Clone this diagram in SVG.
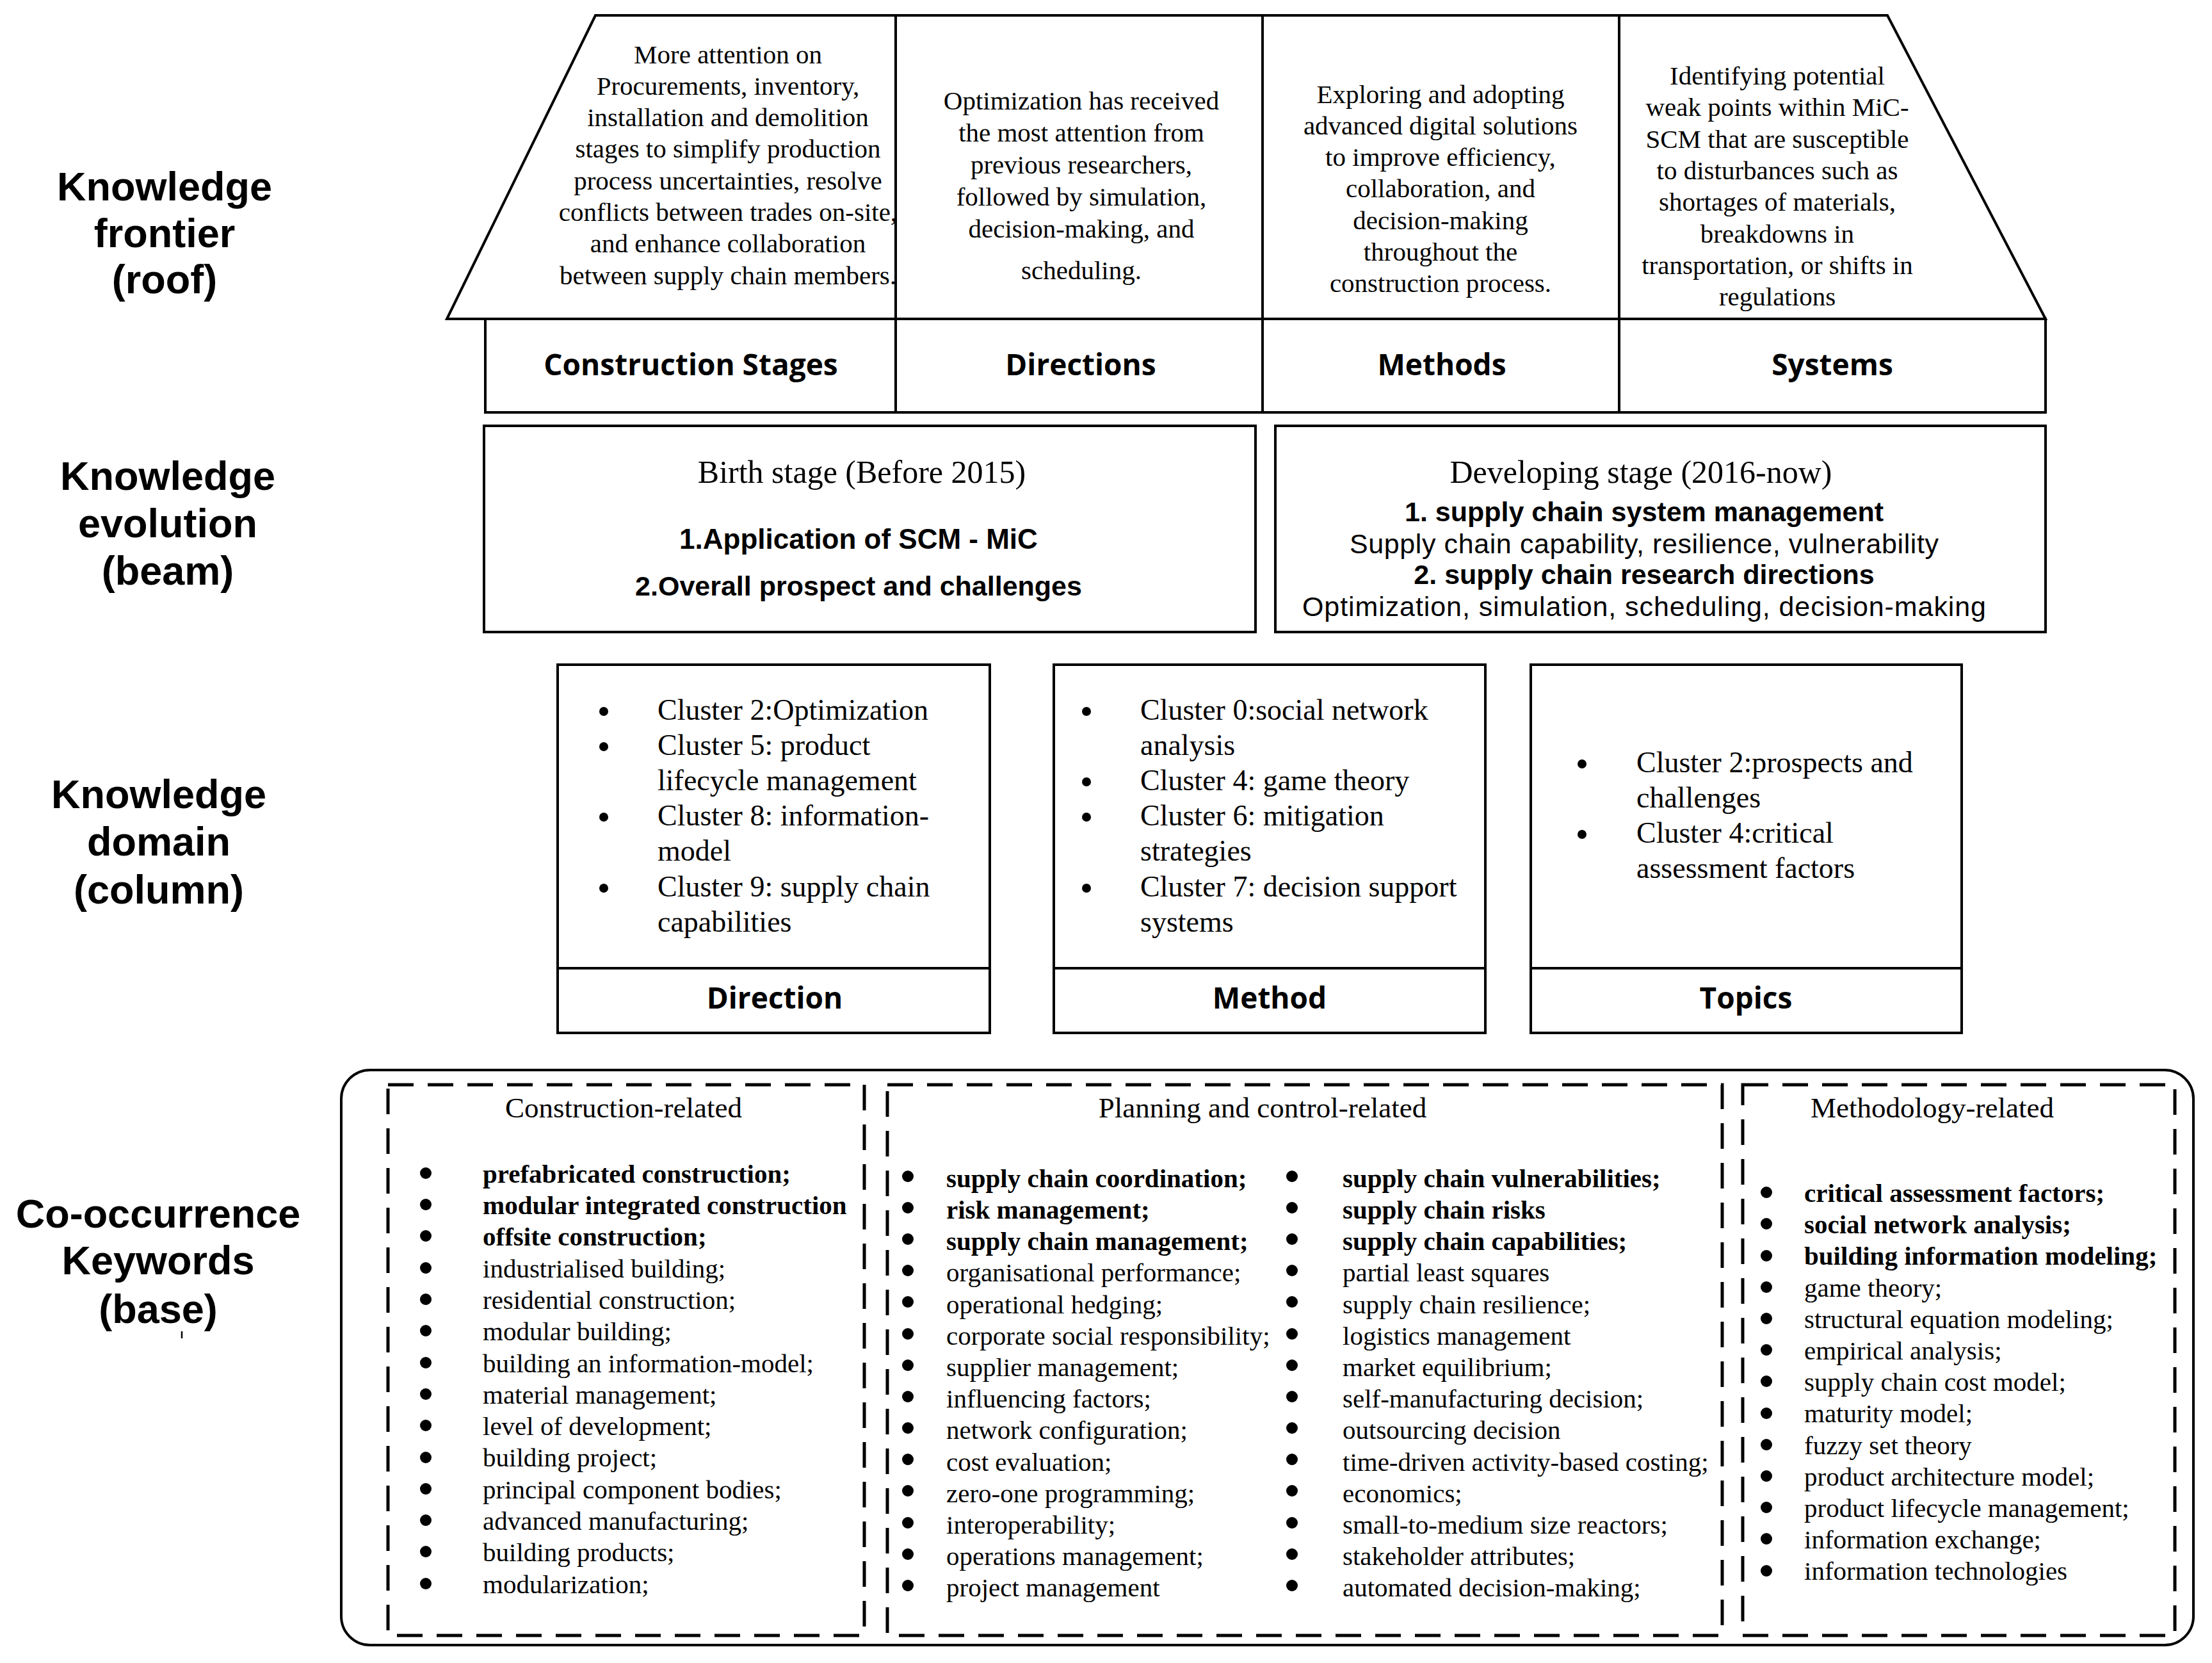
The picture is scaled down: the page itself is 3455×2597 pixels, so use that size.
<svg xmlns="http://www.w3.org/2000/svg" width="3455" height="2597" viewBox="0 0 3455 2597">
<style>
.ln{fill:none;stroke:#000;stroke-width:4}
.dash{fill:none;stroke:#000;stroke-width:5;stroke-dasharray:40 22}
.side{font-family:"Liberation Sans",Arial,sans-serif;font-weight:700;font-size:63px;text-anchor:middle}
.lab{font-family:"Open Sans","Noto Sans",sans-serif;font-weight:700;font-size:46px;text-anchor:middle}
.roof{font-family:"Liberation Serif","Times New Roman",serif;font-size:41px;text-anchor:middle}
.stage{font-family:"Liberation Serif","Times New Roman",serif;font-size:50px;text-anchor:middle}
.bs{font-family:"Liberation Sans",Arial,sans-serif;font-weight:700;font-size:43px;text-anchor:middle}
.dev{font-family:"Liberation Sans",Arial,sans-serif;font-size:43px;text-anchor:middle}
.cl{font-family:"Liberation Serif","Times New Roman",serif;font-size:46px}
.hd{font-family:"Liberation Serif","Times New Roman",serif;font-size:45px;text-anchor:middle}
.kw{font-family:"Liberation Serif","Times New Roman",serif;font-size:41px}
.b{font-weight:700}
</style>
<rect width="3455" height="2597" fill="#fff"/>

<g id="side-labels">
<text class="side"><tspan x="257" y="313">Knowledge</tspan><tspan x="257" y="386">frontier</tspan><tspan x="257" y="458">(roof)</tspan></text>
<text class="side"><tspan x="262" y="765">Knowledge</tspan><tspan x="262" y="839">evolution</tspan><tspan x="262" y="913">(beam)</tspan></text>
<text class="side"><tspan x="248" y="1262">Knowledge</tspan><tspan x="248" y="1336">domain</tspan><tspan x="248" y="1411">(column)</tspan></text>
<text class="side"><tspan x="247" y="1917">Co-occurrence</tspan><tspan x="247" y="1990">Keywords</tspan><tspan x="247" y="2066">(base)</tspan></text>
<line x1="284" y1="2079" x2="284" y2="2090" stroke="#000" stroke-width="2.5"/>
</g>

<g id="roof">
<polygon class="ln" points="930,24 2948,24 3195,498 698,498"/>
<rect class="ln" x="758" y="498" width="2437" height="146"/>
<line class="ln" x1="1399" y1="24" x2="1399" y2="644"/>
<line class="ln" x1="1972" y1="24" x2="1972" y2="644"/>
<line class="ln" x1="2529" y1="24" x2="2529" y2="644"/>
</g>

<g id="roof-construction-stages">
<text class="roof"><tspan x="1137" y="98.5">More attention on</tspan><tspan x="1137" y="147.8">Procurements, inventory,</tspan><tspan x="1137" y="197.1">installation and demolition</tspan><tspan x="1137" y="246.4">stages to simplify production</tspan><tspan x="1137" y="295.7">process uncertainties, resolve</tspan><tspan x="1137" y="345">conflicts between trades on-site,</tspan><tspan x="1137" y="394.3">and enhance collaboration</tspan><tspan x="1137" y="443.6">between supply chain members.</tspan></text>
<text class="lab" x="1079" y="585.5">Construction Stages</text>
</g>

<g id="roof-directions">
<text class="roof"><tspan x="1689" y="171.3">Optimization has received</tspan><tspan x="1689" y="221">the most attention from</tspan><tspan x="1689" y="271">previous researchers,</tspan><tspan x="1689" y="321">followed by simulation,</tspan><tspan x="1689" y="371">decision-making, and</tspan><tspan x="1689" y="436">scheduling.</tspan></text>
<text class="lab" x="1688" y="585.5">Directions</text>
</g>

<g id="roof-methods">
<text class="roof"><tspan x="2250" y="160.5">Exploring and adopting</tspan><tspan x="2250" y="209.8">advanced digital solutions</tspan><tspan x="2250" y="259.1">to improve efficiency,</tspan><tspan x="2250" y="308.4">collaboration, and</tspan><tspan x="2250" y="357.7">decision-making</tspan><tspan x="2250" y="407">throughout the</tspan><tspan x="2250" y="456.3">construction process.</tspan></text>
<text class="lab" x="2252" y="585.5">Methods</text>
</g>

<g id="roof-systems">
<text class="roof"><tspan x="2776" y="132">Identifying potential</tspan><tspan x="2776" y="181.3">weak points within MiC-</tspan><tspan x="2776" y="230.6">SCM that are susceptible</tspan><tspan x="2776" y="279.9">to disturbances such as</tspan><tspan x="2776" y="329.2">shortages of materials,</tspan><tspan x="2776" y="378.5">breakdowns in</tspan><tspan x="2776" y="427.8">transportation, or shifts in</tspan><tspan x="2776" y="477.1">regulations</tspan></text>
<text class="lab" x="2862" y="585.5">Systems</text>
</g>

<g id="beam-birth">
<rect class="ln" x="756" y="665" width="1205" height="322"/>
<text class="stage" x="1346" y="754">Birth stage (Before 2015)</text>
<text class="bs" x="1341" y="857" style="font-size:44px">1.Application of SCM - MiC</text>
<text class="bs" x="1341" y="930">2.Overall prospect and challenges</text>
</g>

<g id="beam-developing">
<rect class="ln" x="1992" y="665" width="1203" height="322"/>
<text class="stage" x="2563" y="754">Developing stage (2016-now)</text>
<text class="dev"><tspan class="b" x="2568" y="814">1. supply chain system management</tspan><tspan x="2568" y="864" textLength="920" lengthAdjust="spacing">Supply chain capability, resilience, vulnerability</tspan><tspan class="b" x="2568" y="912">2. supply chain research directions</tspan><tspan x="2568" y="962" textLength="1068" lengthAdjust="spacing">Optimization, simulation, scheduling, decision-making</tspan></text>
</g>

<g id="column-direction">
<rect class="ln" x="871" y="1038" width="675" height="575"/>
<line class="ln" x1="871" y1="1512" x2="1546" y2="1512"/>
<circle cx="943" cy="1111" r="7"/><circle cx="943" cy="1166" r="7"/><circle cx="943" cy="1276" r="7"/><circle cx="943" cy="1387" r="7"/>
<text class="cl"><tspan x="1027" y="1123.5">Cluster 2:Optimization</tspan><tspan x="1027" y="1178.7">Cluster 5: product</tspan><tspan x="1027" y="1233.9">lifecycle management</tspan><tspan x="1027" y="1289.1">Cluster 8: information-</tspan><tspan x="1027" y="1344.3">model</tspan><tspan x="1027" y="1399.5">Cluster 9: supply chain</tspan><tspan x="1027" y="1454.7">capabilities</tspan></text>
<text class="lab" x="1210" y="1575">Direction</text>
</g>

<g id="column-method">
<rect class="ln" x="1646" y="1038" width="674" height="575"/>
<line class="ln" x1="1646" y1="1512" x2="2320" y2="1512"/>
<circle cx="1697" cy="1111" r="7"/><circle cx="1697" cy="1221" r="7"/><circle cx="1697" cy="1276" r="7"/><circle cx="1697" cy="1387" r="7"/>
<text class="cl"><tspan x="1781" y="1123.5">Cluster 0:social network</tspan><tspan x="1781" y="1178.7">analysis</tspan><tspan x="1781" y="1233.9">Cluster 4: game theory</tspan><tspan x="1781" y="1289.1">Cluster 6: mitigation</tspan><tspan x="1781" y="1344.3">strategies</tspan><tspan x="1781" y="1399.5">Cluster 7: decision support</tspan><tspan x="1781" y="1454.7">systems</tspan></text>
<text class="lab" x="1983" y="1575">Method</text>
</g>

<g id="column-topics">
<rect class="ln" x="2391" y="1038" width="673" height="575"/>
<line class="ln" x1="2391" y1="1512" x2="3064" y2="1512"/>
<circle cx="2471" cy="1193" r="7"/><circle cx="2471" cy="1303" r="7"/>
<text class="cl"><tspan x="2556" y="1205.6">Cluster 2:prospects and</tspan><tspan x="2556" y="1260.8">challenges</tspan><tspan x="2556" y="1316">Cluster 4:critical</tspan><tspan x="2556" y="1371.2">assessment factors</tspan></text>
<text class="lab" x="2727" y="1575">Topics</text>
</g>

<g id="base">
<rect class="ln" x="533" y="1671" width="2893" height="898" rx="45"/>
</g>

<g id="base-construction">
<rect class="dash" x="606" y="1694" width="744" height="860"/>
<text class="hd" x="974" y="1745">Construction-related</text>
<g fill="#000">
<circle cx="665" cy="1832" r="9"/><circle cx="665" cy="1881" r="9"/><circle cx="665" cy="1930" r="9"/><circle cx="665" cy="1980" r="9"/><circle cx="665" cy="2029" r="9"/><circle cx="665" cy="2078" r="9"/><circle cx="665" cy="2128" r="9"/><circle cx="665" cy="2177" r="9"/><circle cx="665" cy="2226" r="9"/><circle cx="665" cy="2276" r="9"/><circle cx="665" cy="2325" r="9"/><circle cx="665" cy="2374" r="9"/><circle cx="665" cy="2423" r="9"/><circle cx="665" cy="2473" r="9"/>
</g>
<text class="kw"><tspan class="b" x="754" y="1846.7">prefabricated construction;</tspan><tspan class="b" x="754" y="1896">modular integrated construction</tspan><tspan class="b" x="754" y="1945.3">offsite construction;</tspan><tspan x="754" y="1994.6">industrialised building;</tspan><tspan x="754" y="2043.9">residential construction;</tspan><tspan x="754" y="2093.2">modular building;</tspan><tspan x="754" y="2142.5">building an information-model;</tspan><tspan x="754" y="2191.8">material management;</tspan><tspan x="754" y="2241.1">level of development;</tspan><tspan x="754" y="2290.4">building project;</tspan><tspan x="754" y="2339.7">principal component bodies;</tspan><tspan x="754" y="2389">advanced manufacturing;</tspan><tspan x="754" y="2438.3">building products;</tspan><tspan x="754" y="2487.6">modularization;</tspan></text>
</g>

<g id="base-planning">
<rect class="dash" x="1386" y="1694" width="1304" height="860"/>
<text class="hd" x="1972" y="1745">Planning and control-related</text>
<g fill="#000">
<circle cx="1418" cy="1837" r="9"/><circle cx="1418" cy="1886" r="9"/><circle cx="1418" cy="1935" r="9"/><circle cx="1418" cy="1984" r="9"/><circle cx="1418" cy="2033" r="9"/><circle cx="1418" cy="2083" r="9"/><circle cx="1418" cy="2132" r="9"/><circle cx="1418" cy="2181" r="9"/><circle cx="1418" cy="2230" r="9"/><circle cx="1418" cy="2279" r="9"/><circle cx="1418" cy="2328" r="9"/><circle cx="1418" cy="2378" r="9"/><circle cx="1418" cy="2427" r="9"/><circle cx="1418" cy="2476" r="9"/>
<circle cx="2018" cy="1837" r="9"/><circle cx="2018" cy="1886" r="9"/><circle cx="2018" cy="1935" r="9"/><circle cx="2018" cy="1984" r="9"/><circle cx="2018" cy="2033" r="9"/><circle cx="2018" cy="2083" r="9"/><circle cx="2018" cy="2132" r="9"/><circle cx="2018" cy="2181" r="9"/><circle cx="2018" cy="2230" r="9"/><circle cx="2018" cy="2279" r="9"/><circle cx="2018" cy="2328" r="9"/><circle cx="2018" cy="2378" r="9"/><circle cx="2018" cy="2427" r="9"/><circle cx="2018" cy="2476" r="9"/>
</g>
<text class="kw"><tspan class="b" x="1478" y="1853.7">supply chain coordination;</tspan><tspan class="b" x="1478" y="1902.9">risk management;</tspan><tspan class="b" x="1478" y="1952.1">supply chain management;</tspan><tspan x="1478" y="2001.3">organisational performance;</tspan><tspan x="1478" y="2050.5">operational hedging;</tspan><tspan x="1478" y="2099.7">corporate social responsibility;</tspan><tspan x="1478" y="2148.9">supplier management;</tspan><tspan x="1478" y="2198.1">influencing factors;</tspan><tspan x="1478" y="2247.3">network configuration;</tspan><tspan x="1478" y="2296.5">cost evaluation;</tspan><tspan x="1478" y="2345.7">zero-one programming;</tspan><tspan x="1478" y="2394.9">interoperability;</tspan><tspan x="1478" y="2444.1">operations management;</tspan><tspan x="1478" y="2493.3">project management</tspan></text>
<text class="kw"><tspan class="b" x="2097" y="1853.7">supply chain vulnerabilities;</tspan><tspan class="b" x="2097" y="1902.9">supply chain risks</tspan><tspan class="b" x="2097" y="1952.1">supply chain capabilities;</tspan><tspan x="2097" y="2001.3">partial least squares</tspan><tspan x="2097" y="2050.5">supply chain resilience;</tspan><tspan x="2097" y="2099.7">logistics management</tspan><tspan x="2097" y="2148.9">market equilibrium;</tspan><tspan x="2097" y="2198.1">self-manufacturing decision;</tspan><tspan x="2097" y="2247.3">outsourcing decision</tspan><tspan x="2097" y="2296.5">time-driven activity-based costing;</tspan><tspan x="2097" y="2345.7">economics;</tspan><tspan x="2097" y="2394.9">small-to-medium size reactors;</tspan><tspan x="2097" y="2444.1">stakeholder attributes;</tspan><tspan x="2097" y="2493.3">automated decision-making;</tspan></text>
</g>

<g id="base-methodology">
<rect class="dash" x="2722" y="1694" width="675" height="860"/>
<text class="hd" x="3018" y="1745">Methodology-related</text>
<g fill="#000">
<circle cx="2759" cy="1862" r="9"/><circle cx="2759" cy="1911" r="9"/><circle cx="2759" cy="1961" r="9"/><circle cx="2759" cy="2010" r="9"/><circle cx="2759" cy="2059" r="9"/><circle cx="2759" cy="2108" r="9"/><circle cx="2759" cy="2157" r="9"/><circle cx="2759" cy="2207" r="9"/><circle cx="2759" cy="2256" r="9"/><circle cx="2759" cy="2305" r="9"/><circle cx="2759" cy="2354" r="9"/><circle cx="2759" cy="2403" r="9"/><circle cx="2759" cy="2453" r="9"/>
</g>
<text class="kw"><tspan class="b" x="2818" y="1877">critical assessment factors;</tspan><tspan class="b" x="2818" y="1926.2">social network analysis;</tspan><tspan class="b" x="2818" y="1975.4">building information modeling;</tspan><tspan x="2818" y="2024.6">game theory;</tspan><tspan x="2818" y="2073.8">structural equation modeling;</tspan><tspan x="2818" y="2123">empirical analysis;</tspan><tspan x="2818" y="2172.2">supply chain cost model;</tspan><tspan x="2818" y="2221.4">maturity model;</tspan><tspan x="2818" y="2270.6">fuzzy set theory</tspan><tspan x="2818" y="2319.8">product architecture model;</tspan><tspan x="2818" y="2369">product lifecycle management;</tspan><tspan x="2818" y="2418.2">information exchange;</tspan><tspan x="2818" y="2467.4">information technologies</tspan></text>
</g>

<g id="connectors"></g>
</svg>
